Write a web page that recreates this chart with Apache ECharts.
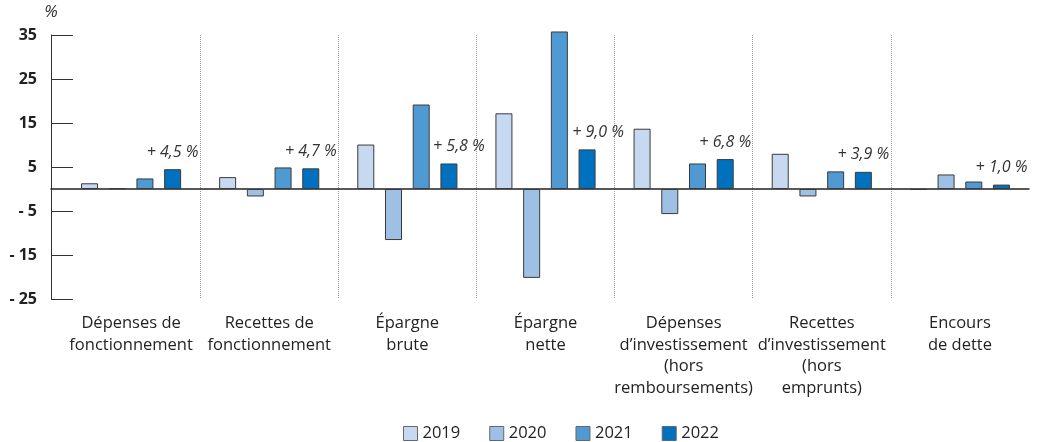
<!DOCTYPE html>
<html>
<head>
<meta charset="utf-8">
<script src="https://cdn.jsdelivr.net/npm/echarts@6/dist/echarts.min.js"></script>
<style>
  html, body { margin: 0; padding: 0; background: #fff; }
  #chart { width: 1038px; height: 442px; }
</style>
</head>
<body>
<div id="chart"></div>
<script>
var categories = [
  'Dépenses de\nfonctionnement',
  'Recettes de\nfonctionnement',
  'Épargne\nbrute',
  'Épargne\nnette',
  'Dépenses\nd\u2019investissement\n(hors\nremboursements)',
  'Recettes\nd\u2019investissement\n(hors\nemprunts)',
  'Encours\nde dette'
];
var years = ['2019', '2020', '2021', '2022'];
var values2019 = [1.3, 2.7, 10.1, 17.2, 13.7, 8.0, -0.2];
var values2020 = [0.2, -1.7, -11.6, -20.2, -5.7, -1.7, 3.3];
var values2021 = [2.4, 4.9, 19.2, 35.8, 5.8, 4.0, 1.7];
var values2022 = [4.5, 4.7, 5.8, 9.0, 6.8, 3.9, 1.0];
var yMin = -25, yMax = 35;

var colors = ['#c6d9f0', '#9fc0e5', '#4f9ad3', '#0071bf'];
var font = '"Open Sans", sans-serif';
// the 2022 labels of the two savings groups sit a bit to the right
var labelShift = [0, 0, 10, 11, 0, 0, 0];

function fmtPct(v) {
  return '+ ' + v.toFixed(1).replace('.', ',') + ' %';
}

var seriesValues = [values2019, values2020, values2021, values2022];
var series = seriesValues.map(function (vals, k) {
  var s = {
    name: years[k],
    type: 'bar',
    xAxisIndex: 0,
    yAxisIndex: 0,
    barWidth: 17,
    barGap: '63%',
    clip: false,
    itemStyle: { color: colors[k], borderColor: '#3a3a3a', borderWidth: 1 },
    data: vals
  };
  if (k === 3) {
    s.data = vals.map(function (v, i) {
      return { value: v, label: { offset: [labelShift[i], 0] } };
    });
    s.label = {
      show: true,
      position: 'top',
      distance: 9,
      formatter: function (p) { return fmtPct(p.value); },
      fontFamily: font,
      fontStyle: 'italic',
      fontSize: 16,
      color: '#333'
    };
  }
  return s;
});

var option = {
  animation: false,
  backgroundColor: '#fff',
  textStyle: { fontFamily: font },
  legend: {
    data: years,
    left: 398,
    top: 420,
    icon: 'rect',
    itemWidth: 14,
    itemHeight: 14,
    itemGap: 29,
    itemStyle: { borderColor: '#666', borderWidth: 1 },
    textStyle: { fontFamily: font, fontSize: 16.5, color: '#222' }
  },
  grid: [
    { left: 62, right: 9, top: 35, bottom: 143 },
    { left: 51, width: 22, top: 35, bottom: 143 },
    { left: 51, right: 9, top: 35, bottom: 143 }
  ],
  xAxis: [
    {
      type: 'category',
      gridIndex: 0,
      data: categories,
      axisLine: { show: false, onZero: false },
      axisTick: { show: false },
      splitLine: {
        show: true,
        showMinLine: false,
        showMaxLine: false,
        lineStyle: { color: '#999', type: 'dotted', width: 1 }
      },
      axisLabel: {
        interval: 0,
        margin: 14,
        fontFamily: font,
        fontSize: 16.5,
        lineHeight: 21.5,
        color: '#222'
      }
    },
    { type: 'value', gridIndex: 1, show: false, min: 0, max: 1 },
    {
      type: 'value',
      gridIndex: 2,
      min: 0,
      max: 1,
      axisLine: { show: true, onZero: true, lineStyle: { color: '#222', width: 1.5 } },
      axisTick: { show: false },
      axisLabel: { show: false },
      splitLine: { show: false }
    }
  ],
  yAxis: [
    { type: 'value', gridIndex: 0, min: yMin, max: yMax, interval: 5, show: false },
    {
      type: 'value',
      gridIndex: 1,
      min: yMin,
      max: yMax,
      interval: 5,
      name: '%',
      nameLocation: 'end',
      nameGap: 14,
      nameTextStyle: { fontFamily: font, fontStyle: 'italic', fontSize: 17, color: '#333', align: 'center' },
      axisLine: { show: true, lineStyle: { color: '#333', width: 1 } },
      axisTick: { show: false },
      splitLine: {
        show: true,
        lineStyle: { color: ['#333', 'rgba(0,0,0,0)'], width: 1 }
      },
      axisLabel: {
        margin: 14,
        fontFamily: font,
        fontSize: 16,
        fontWeight: 'bold',
        color: '#222',
        formatter: function (v) {
          if ((v - yMin) % 10 !== 0) return '';
          return v < 0 ? '- ' + (-v) : String(v);
        }
      }
    },
    { type: 'value', gridIndex: 2, min: yMin, max: yMax, interval: 5, show: false }
  ],
  series: series
};

var chart = echarts.init(document.getElementById('chart'), null, { renderer: 'canvas' });
chart.setOption(option);
</script>
</body>
</html>
